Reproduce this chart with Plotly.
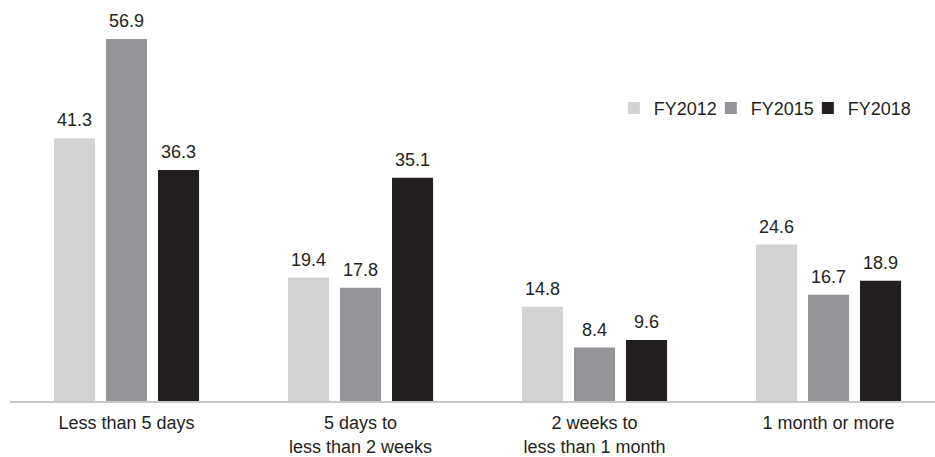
import plotly.graph_objects as go

categories = ["Less than 5 days", "5 days to<br>less than 2 weeks",
              "2 weeks to<br>less than 1 month", "1 month or more"]
series_names = ["FY2012", "FY2015", "FY2018"]
fy2012 = [41.3, 19.4, 14.8, 24.6]
fy2015 = [56.9, 17.8, 8.4, 16.7]
fy2018 = [36.3, 35.1, 9.6, 18.9]
colors = ["#d1d3d4", "#939598", "#231f20"]

series_values = [fy2012, fy2015, fy2018]
text_color = "#231f20"
font_family = "Liberation Sans, Arial, sans-serif"

bargap = 1 / 3
bargroupgap = 0.21
slot = (1 - bargap) / len(series_values)

fig = go.Figure()
annotations = []
for i, (name, vals, col) in enumerate(zip(series_names, series_values, colors)):
    is_last = i == len(series_values) - 1
    fig.add_trace(go.Bar(
        name=name, x=categories, y=vals, marker=dict(color=col, line=dict(width=0)),
        hoverinfo="skip",
        # tighter legend spacing between entries; last entry keeps its natural width
        legendwidth=None if is_last else 52,
    ))
    # value label centred over each bar of this series
    offset = (i - (len(series_values) - 1) / 2) * slot
    for j, v in enumerate(vals):
        annotations.append(dict(
            x=j + offset, y=v, xref="x", yref="y", text=f"{v:.1f}",
            showarrow=False, yanchor="bottom", yshift=6,
            font=dict(size=18, color=text_color, family=font_family),
        ))

fig.update_layout(
    width=935, height=457,
    margin=dict(l=10, r=0, t=0, b=46),
    paper_bgcolor="white", plot_bgcolor="white",
    barmode="group", bargap=bargap, bargroupgap=bargroupgap,
    font=dict(family=font_family, size=18, color=text_color),
    showlegend=True,
    legend=dict(
        orientation="h", x=0.6528, xanchor="left", y=0.73, yanchor="middle",
        font=dict(size=18, color=text_color), bgcolor="rgba(0,0,0,0)",
        traceorder="normal",
    ),
    annotations=annotations,
    xaxis=dict(
        range=[-0.498, 3.455], showgrid=False, zeroline=False,
        showline=True, linecolor="#c8c8c8", linewidth=1.5,
        ticks="", ticklabelstandoff=5,
        tickfont=dict(size=18, color=text_color),
    ),
    yaxis=dict(range=[0, 63.04], visible=False, showgrid=False, zeroline=False),
)

fig.write_html("out.html")
